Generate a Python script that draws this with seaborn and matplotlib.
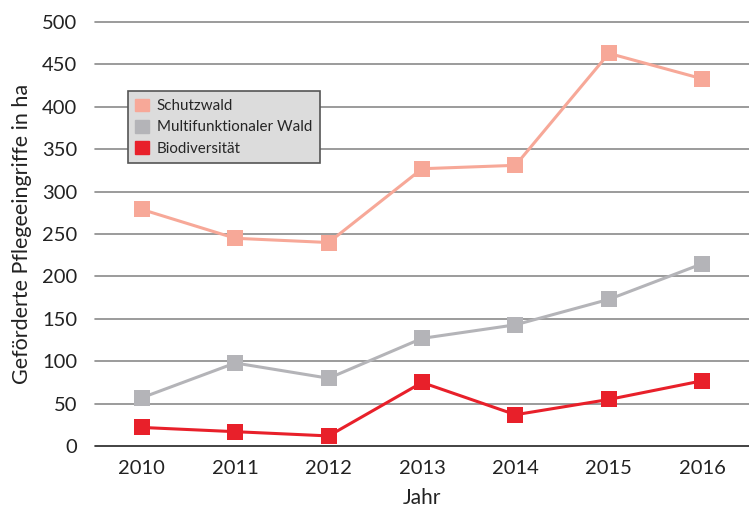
import pandas as pd
import matplotlib.pyplot as plt
import seaborn as sns

# data
years = [2010, 2011, 2012, 2013, 2014, 2015, 2016]
schutzwald = [279, 245, 240, 327, 331, 463, 433]
multifunktional = [57, 98, 80, 127, 143, 173, 215]
biodiversitaet = [22, 17, 12, 75, 37, 55, 77]
series_names = ["Schutzwald", "Multifunktionaler Wald", "Biodiversität"]
series_colors = ["#f7a898", "#b4b4b8", "#e8202a"]

df = pd.DataFrame({
    "Jahr": years * 3,
    "Wert": schutzwald + multifunktional + biodiversitaet,
    "Serie": [series_names[0]] * 7 + [series_names[1]] * 7 + [series_names[2]] * 7,
})

sns.set_theme(style="white")
plt.rcParams['font.family'] = ['Lato', 'DejaVu Sans']

fig = plt.figure(figsize=(7.49, 5.11), dpi=100)
ax = fig.add_axes([0.127, 0.127, 0.873, 0.83])

# gridlines at every 50
for y in range(0, 501, 50):
    ax.axhline(y, color="#8a8a8a" if y > 0 else "#222222", lw=1.2, zorder=0, clip_on=False)

sns.lineplot(data=df, x="Jahr", y="Wert", hue="Serie", hue_order=series_names,
             palette=series_colors, marker="s", markersize=12, markeredgewidth=0,
             linewidth=2.2, ax=ax, legend=False, zorder=3)

ax.set_xlim(2009.5, 2016.5)
ax.set_ylim(0, 500)
ax.set_xticks(years)
ax.set_xticklabels([str(y) for y in years])
ax.set_yticks(range(0, 501, 50))
for s in ax.spines.values():
    s.set_visible(False)
ax.tick_params(axis="both", labelsize=14.5, colors="#222222", length=0)
ax.tick_params(axis="x", pad=10)
ax.tick_params(axis="y", pad=13)
ax.set_xlabel("Jahr", fontsize=15, color="#222222", labelpad=8)
ax.set_ylabel("Geförderte Pflegeeingriffe in ha", fontsize=15.5, color="#222222", labelpad=7)

handles = [plt.Rectangle((0, 0), 1, 1, color=c) for c in series_colors]
leg = ax.legend(handles, series_names, loc="upper left", bbox_to_anchor=(0.05, 0.837),
                borderaxespad=0, fontsize=10.9, frameon=True, fancybox=False,
                handlelength=0.9, handleheight=0.9, handletextpad=0.5,
                labelspacing=0.45, borderpad=0.5)
leg.get_frame().set_facecolor("#dcdcdc")
leg.get_frame().set_edgecolor("#555555")
leg.get_frame().set_linewidth(1.2)
leg.get_frame().set_alpha(1)
leg.set_zorder(5)

fig.savefig("out.png", dpi=100)
